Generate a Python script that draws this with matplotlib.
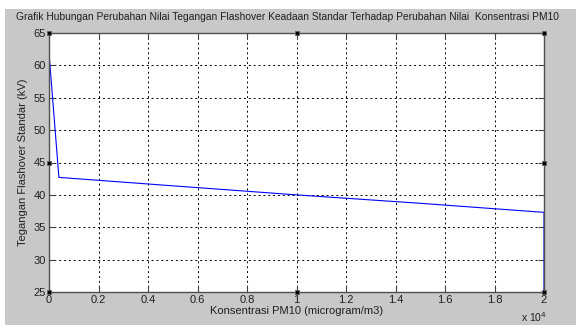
import matplotlib
matplotlib.use("Agg")
import matplotlib.pyplot as plt
from matplotlib.patches import Rectangle

plt.rcParams['font.family'] = ['Liberation Sans', 'DejaVu Sans']

# data (x in microgram/m3, y in kV)
pm10 = [0, 40, 400, 5000, 10000, 15000, 20000, 20000]
v_flashover = [61.8, 60.0, 42.7, 41.4, 40.0, 38.7, 37.3, 0]

xticks = [0, 2000, 4000, 6000, 8000, 10000, 12000, 14000, 16000, 18000, 20000]
xticklabels = ['0', '0.2', '0.4', '0.6', '0.8', '1', '1.2', '1.4', '1.6', '1.8', '2']
yticks = [25, 30, 35, 40, 45, 50, 55, 60, 65]

fig = plt.figure(figsize=(5.76, 3.25), dpi=100, facecolor='white')
# MATLAB-like gray figure panel under a thin white strip
fig.patches.append(Rectangle((5 / 576, 0), 1, 1 - 9 / 325, transform=fig.transFigure,
                             facecolor='#c8c8c8', edgecolor='none', zorder=-1))

ax = fig.add_axes([49 / 576, 1 - 292 / 325, 495 / 576, 259 / 325])
ax.set_facecolor('white')
ax.plot(pm10, v_flashover, color='#0000ff', linewidth=0.8)

ax.set_xlim(0, 20000)
ax.set_ylim(25, 65)
ax.set_xticks(xticks)
ax.set_xticklabels(xticklabels)
ax.set_yticks(yticks)
ax.grid(True, color='black', linestyle=(0, (2, 3)), linewidth=0.7)
ax.tick_params(direction='in', length=4, width=0.8, color='#404040',
               labelsize=8, labelcolor='#202020', pad=2,
               top=True, right=True)
for s in ax.spines.values():
    s.set_color('#505050')
    s.set_linewidth(1.0)

fig.text(288 / 576, 1 - 17 / 325,
         'Grafik Hubungan Perubahan Nilai Tegangan Flashover Keadaan Standar Terhadap Perubahan Nilai  Konsentrasi PM10',
         fontsize=7.35, color='#202020', ha='center', va='center')
ax.set_xlabel('Konsentrasi PM10 (microgram/m3)', fontsize=8, color='#202020', labelpad=1)
ax.set_ylabel('Tegangan Flashover Standar (kV)', fontsize=8, color='#202020', labelpad=4)
fig.text(521 / 576, 1 - 317 / 325, r'x 10$^{4}$', fontsize=7.5, color='#202020',
         ha='left', va='center')

# selection handles on the axes box
hx = [0, 0.5, 1, 0, 1, 0, 0.5, 1]
hy = [1, 1, 1, 0.5, 0.5, 0, 0, 0]
ax.plot(hx, hy, linestyle='none', marker='s', markersize=3.2, color='black',
        markeredgecolor='#606060', markeredgewidth=0.6,
        transform=ax.transAxes, clip_on=False, zorder=5)

fig.savefig('out.png', dpi=100, facecolor=fig.get_facecolor())
